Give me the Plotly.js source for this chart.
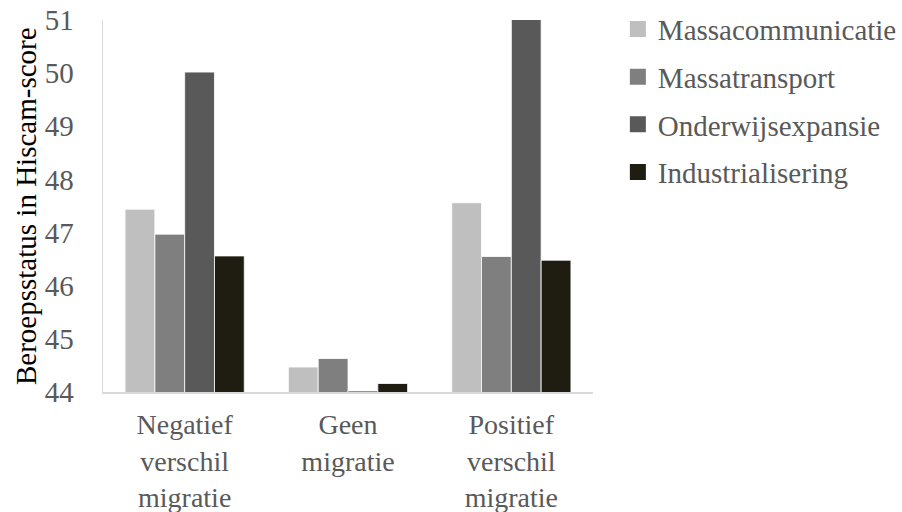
<!DOCTYPE html>
<html>
<head>
<meta charset="utf-8">
<script src="https://cdn.plot.ly/plotly-3.0.1.min.js"></script>
<style>html,body{margin:0;padding:0;background:#fff;}#chart{width:902px;height:512px;}</style>
</head>
<body>
<div id="chart"></div>
<script>
const categories = ["Negatief<br>verschil<br>migratie", "Geen<br>migratie", "Positief<br>verschil<br>migratie"];
const seriesNames = ["Massacommunicatie", "Massatransport", "Onderwijsexpansie", "Industrialisering"];
const massacommunicatie = [47.44, 44.47, 47.56];
const massatransport = [46.97, 44.63, 46.55];
const onderwijsexpansie = [50.02, 44.02, 51.4];
const industrialisering = [46.56, 44.16, 46.48];
const colors = ["#bfbfbf", "#7f7f7f", "#595959", "#1f1c11"];
const yTicks = [44, 45, 46, 47, 48, 49, 50, 51];
const yTitle = "Beroepsstatus in Hiscam-score";

const values = [massacommunicatie, massatransport, onderwijsexpansie, industrialisering];
const font = "'Times New Roman', 'Liberation Serif', serif";
const traces = values.map((v, i) => ({
  type: "bar",
  name: seriesNames[i],
  x: categories,
  y: v,
  showlegend: false,
  marker: {color: colors[i], line: {color: "#ffffff", width: 0.8}},
  hoverinfo: "none"
}));
const legendTraces = seriesNames.map((n, i) => ({
  type: "scatter", mode: "markers",
  name: n, x: [null], y: [null],
  legendgroup: "g" + i,
  marker: {symbol: "square", size: 16, color: colors[i]},
  hoverinfo: "none"
}));

const layout = {
  width: 902, height: 512,
  margin: {l: 103, r: 309, t: 20, b: 120},
  paper_bgcolor: "#fff", plot_bgcolor: "#fff",
  font: {family: font, size: 29, color: "#595959"},
  barmode: "group",
  bargap: 0.27,
  bargroupgap: 0,
  showlegend: true,
  legend: {
    xref: "container", yref: "container",
    x: 0.685, y: 0.993, xanchor: "left", yanchor: "top",
    traceorder: "grouped", tracegroupgap: 7,
    font: {family: font, size: 29, color: "#595959"},
    bgcolor: "rgba(0,0,0,0)"
  },
  xaxis: {
    type: "category",
    showline: true, linecolor: "#d9d9d9", linewidth: 1.5,
    showgrid: false, zeroline: false, ticks: "",
    ticklabelstandoff: 7,
    tickfont: {family: font, size: 28, color: "#595959"}
  },
  yaxis: {
    range: [44, 51],
    tickvals: yTicks,
    ticktext: yTicks.map(String),
    showline: true, linecolor: "#d9d9d9", linewidth: 1.5,
    showgrid: false, zeroline: false, ticks: "",
    ticklabelstandoff: 22,
    tickfont: {family: font, size: 29, color: "#595959"}
  },
  annotations: [{
    text: yTitle, textangle: -90,
    xref: "paper", yref: "paper", x: 0, y: 0.5,
    xanchor: "center", yanchor: "middle", xshift: -77,
    showarrow: false,
    font: {family: font, size: 29, color: "#000000"}
  }]
};

Plotly.newPlot("chart", traces.concat(legendTraces), layout, {displayModeBar: false, staticPlot: true});
</script>
</body>
</html>
